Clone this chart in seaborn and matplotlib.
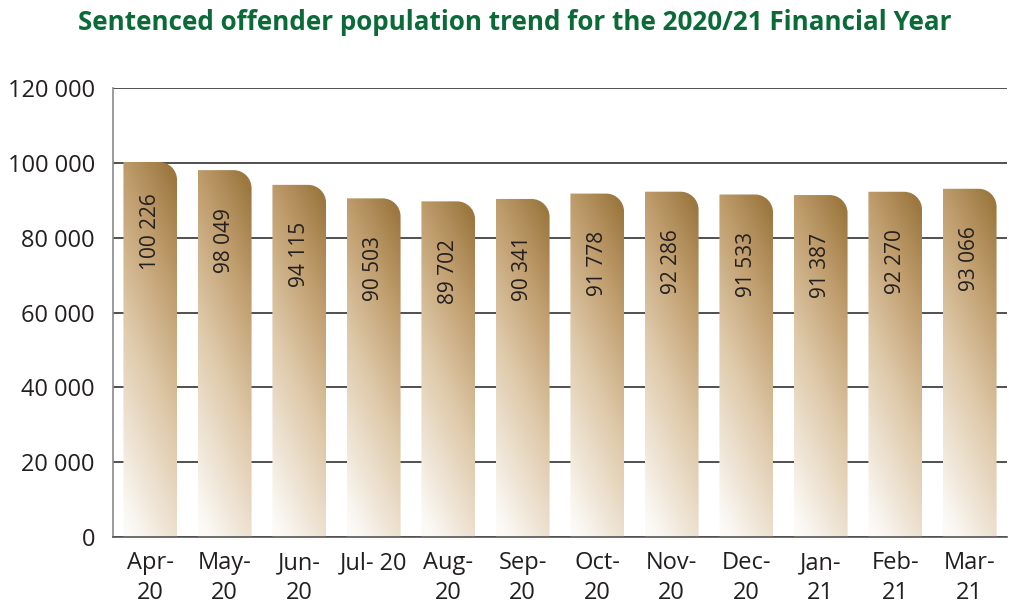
import numpy as np
import pandas as pd
import matplotlib
matplotlib.use("Agg")
import matplotlib.pyplot as plt
from matplotlib.path import Path
from matplotlib.patches import PathPatch
from matplotlib.ticker import FuncFormatter, FixedLocator
import seaborn as sns

months = ["Apr-\n20", "May-\n20", "Jun-\n20", "Jul- 20", "Aug-\n20", "Sep-\n20",
          "Oct-\n20", "Nov-\n20", "Dec-\n20", "Jan-\n21", "Feb-\n21", "Mar-\n21"]
population = [100226, 98049, 94115, 90503, 89702, 90341,
              91778, 92286, 91533, 91387, 92270, 93066]
y_ticks = [0, 20000, 40000, 60000, 80000, 100000, 120000]
title = "Sentenced offender population trend for the 2020/21 Financial Year"

sns.set_theme(style="white")
plt.rcParams["font.family"] = ["Open Sans", "DejaVu Sans"]

W, H, DPI = 1009, 608, 100
fig = plt.figure(figsize=(W / DPI, H / DPI), dpi=DPI)
ax = fig.add_axes([113 / W, (H - 537) / H, (1007 - 113) / W, (537 - 88) / H])

df = pd.DataFrame({"month": months, "population": population})
sns.barplot(data=df, x="month", y="population", width=0.72, color="#b08d5a",
            ax=ax, zorder=2)

ax.set_ylim(0, 120000)
ax.set_xlim(-0.5, len(months) - 0.5)
ax.set_xlabel("")
ax.set_ylabel("")

# horizontal grid behind the bars
ax.yaxis.set_major_locator(FixedLocator(y_ticks))
ax.yaxis.grid(True, color="#231f20", lw=1.1)
ax.xaxis.grid(False)
ax.set_axisbelow(True)
ax.yaxis.set_major_formatter(FuncFormatter(lambda v, p: f"{int(v):,}".replace(",", " ")))
ax.tick_params(axis="y", length=0, pad=13, labelsize=17, labelcolor="#231f20")

# category labels centred, boundary ticks between categories
ax.tick_params(axis="x", which="major", length=0, pad=10, labelsize=17, labelcolor="#231f20")
ax.set_xticks(np.arange(-0.5, len(months), 1.0), minor=True)
ax.tick_params(axis="x", which="minor", length=10, width=1.2, color="#555555", direction="out")
for lab in ax.get_xticklabels():
    lab.set_linespacing(1.32)

for side in ["top", "right"]:
    ax.spines[side].set_visible(False)
ax.spines["left"].set_color("#8a8a8a")
ax.spines["left"].set_linewidth(1.2)
ax.spines["bottom"].set_color("#555555")
ax.spines["bottom"].set_linewidth(1.2)

# diagonal brown-to-cream gradient, rounded top-right corner
stops = np.array([[0.0, 252, 250, 247],
                  [0.45, 222, 200, 168],
                  [0.75, 192, 158, 110],
                  [1.0, 156, 120, 64]])
gx, gy = np.meshgrid(np.linspace(0, 1, 60), np.linspace(0, 1, 300))
t = np.clip(0.28 * gx + 0.82 * gy - 0.05, 0, 1)
grad = np.stack([np.interp(t, stops[:, 0], stops[:, c]) for c in (1, 2, 3)], axis=-1) / 255.0

sx = ax.get_position().width * W / (ax.get_xlim()[1] - ax.get_xlim()[0])
sy = ax.get_position().height * H / (ax.get_ylim()[1] - ax.get_ylim()[0])
r_px = 18
k = 0.5523
for bar, val in zip(ax.patches, population):
    x0 = bar.get_x()
    x1 = x0 + bar.get_width()
    h = bar.get_height()
    rx, ry = r_px / sx, r_px / sy
    verts = [(x0, 0), (x0, h), (x1 - rx, h),
             (x1 - rx + k * rx, h), (x1, h - ry + k * ry), (x1, h - ry),
             (x1, 0), (x0, 0)]
    codes = [Path.MOVETO, Path.LINETO, Path.LINETO,
             Path.CURVE4, Path.CURVE4, Path.CURVE4,
             Path.LINETO, Path.CLOSEPOLY]
    clip = PathPatch(Path(verts, codes), transform=ax.transData, facecolor="none", edgecolor="none")
    bar.set_visible(False)
    im = ax.imshow(grad, extent=[x0, x1, 0, h], origin="lower", aspect="auto",
                   interpolation="bilinear", zorder=2)
    im.set_clip_path(clip)
    ax.text(x0 + bar.get_width() / 2, val - 18700, f"{val:,}".replace(",", " "),
            rotation=90, ha="center", va="center", fontsize=15, color="#231f20",
            family=["Liberation Sans Narrow", "Open Sans", "DejaVu Sans"], zorder=3)

ax.set_xlim(-0.5, len(months) - 0.5)
ax.set_ylim(0, 120000)

fig.text(515 / W, 1 - 22 / H, title, ha="center", va="center", fontsize=18.7,
         fontweight="bold", color="#0b6a37")

fig.savefig("out.png", dpi=DPI)
